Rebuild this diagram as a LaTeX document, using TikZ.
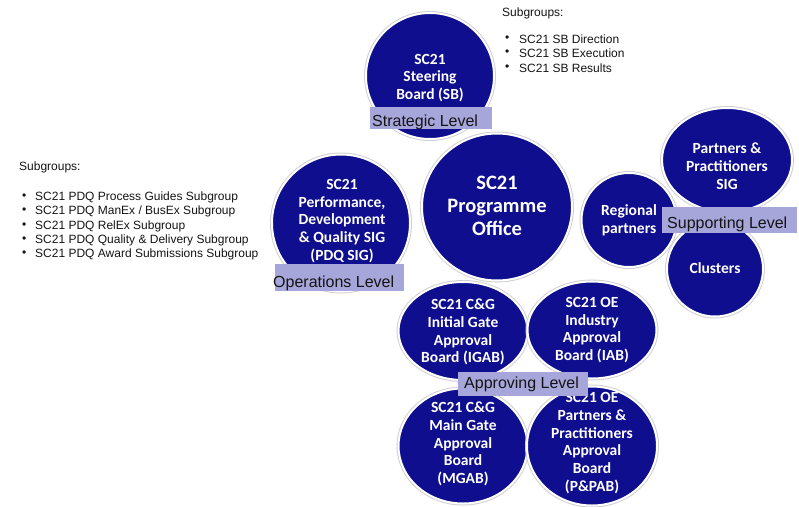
\documentclass[tikz,border=0pt]{standalone}
\usepackage{fontspec}
\setmainfont{Liberation Sans}
\newfontfamily\calfont{Carlito}
\usetikzlibrary{shapes.geometric}
\definecolor{bub}{RGB}{14,14,142}
\definecolor{lav}{RGB}{166,166,218}
\definecolor{ink}{RGB}{20,20,20}
\begin{document}
\begin{tikzpicture}[x=1pt,y=-1pt,
  bubble/.style={ellipse, inner sep=0pt, fill=bub, draw=white, line width=2pt,
    preaction={draw=black!18, line width=4pt}},
  btext/.style={text=white, font=\calfont\bfseries\fontsize{15.5}{17.8}\selectfont,
    align=center, inner sep=0pt},
  bigtext/.style={btext, font=\calfont\bfseries\fontsize{20.5}{23}\selectfont},
  lvl/.style={font=\fontsize{16}{18}\selectfont, text=ink, anchor=base west, inner sep=0pt},
  sub/.style={font=\fontsize{12}{14}\selectfont, text=ink, anchor=west, inner sep=0pt}]
\useasboundingbox (0,0) rectangle (799,506);

% bubbles
\node[bubble, minimum width=128pt, minimum height=126pt] (sb) at (430,76) {};
\node[bubble, minimum width=150pt, minimum height=147pt] (po) at (497,207) {};
\node[bubble, minimum width=138pt, minimum height=137pt] (pdq) at (341,223) {};
\node[bubble, minimum width=130pt, minimum height=104pt] (pps) at (727,160) {};
\node[bubble, minimum width=95pt, minimum height=94pt] (rp) at (629,220) {};
\node[bubble, minimum width=96pt, minimum height=95pt] (cl) at (715,269) {};
\node[bubble, minimum width=129pt, minimum height=98pt] (igab) at (463,331) {};
\node[bubble, minimum width=129pt, minimum height=97pt] (iab) at (592,330) {};
\node[bubble, minimum width=129pt, minimum height=115pt] (mgab) at (463,446) {};
\node[bubble, minimum width=130pt, minimum height=119pt] (ppab) at (592,446) {};

% bubble texts
\node[btext] (sbt) at (430,78) {SC21\\Steering\\Board (SB)};
\node[bigtext] (pot) at (497,206) {SC21\\Programme\\Office};
\node[btext] (pdqt) at (342,221) {SC21\\Performance,\\Development\\\& Quality SIG\\(PDQ SIG)};
\node[btext] (ppst) at (727,166) {Partners \&\\Practitioners\\SIG};
\node[btext] (rpt) at (629,220) {Regional\\partners};
\node[btext] (clt) at (715,268) {Clusters};
\node[btext] (igabt) at (463,332) {SC21 C\&G\\Initial Gate\\Approval\\Board (IGAB)};
\node[btext] (iabt) at (592,330) {SC21 OE\\Industry\\Approval\\Board (IAB)};
\node[btext] (mgabt) at (463,444) {SC21 C\&G\\Main Gate\\Approval\\Board\\(MGAB)};
\node[btext] (ppabt) at (592,443) {SC21 OE\\Partners \&\\Practitioners\\Approval\\Board\\(P\&PAB)};

% level bands
\fill[lav] (370,107) rectangle (492,129);
\fill[lav] (275,264) rectangle (404,291);
\fill[lav] (662,207) rectangle (797,233);
\fill[lav] (458,372) rectangle (588,396);
\node[lvl] (strat) at (372,126) {Strategic Level};
\node[lvl] (oper) at (273,287) {Operations Level};
\node[lvl] (supp) at (667,228) {Supporting Level};
\node[lvl] (appr) at (464,388) {Approving Level};

% subgroups top
\node[sub] (s0) at (502,13) {Subgroups:};
\node[sub] (s1b) at (505,39) {•};
\node[sub] (s1) at (519,39) {SC21 SB Direction};
\node[sub] (s2b) at (505,53) {•};
\node[sub] (s2) at (519,53) {SC21 SB Execution};
\node[sub] (s3b) at (505,68) {•};
\node[sub] (s3) at (519,68) {SC21 SB Results};

% subgroups left
\node[sub] (l0) at (19,167) {Subgroups:};
\node[sub] (l1b) at (22,197) {•};
\node[sub] (l1) at (35,197) {SC21 PDQ Process Guides Subgroup};
\node[sub] (l2b) at (22,211) {•};
\node[sub] (l2) at (35,211) {SC21 PDQ ManEx / BusEx Subgroup};
\node[sub] (l3b) at (22,226) {•};
\node[sub] (l3) at (35,226) {SC21 PDQ RelEx Subgroup};
\node[sub] (l4b) at (22,240) {•};
\node[sub] (l4) at (35,240) {SC21 PDQ Quality \& Delivery Subgroup};
\node[sub] (l5b) at (22,254) {•};
\node[sub] (l5) at (35,254) {SC21 PDQ Award Submissions Subgroup};
\end{tikzpicture}
\end{document}
